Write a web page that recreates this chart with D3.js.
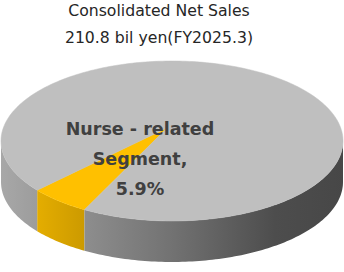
<!doctype html>
<meta charset="utf-8">
<style>
    body { margin: 0; background: #fff; }
    svg { display: block; }
</style>
<div id="chart"></div>
<script src="https://d3js.org/d3.v7.min.js"></script>
<script>

let titleLines = ["Consolidated Net Sales", "210.8 bil yen(FY2025.3)"]
let segments = ["Nurse - related Segment", "Other"]
let shares = [5.9, 94.1]
let labelLines = ["Nurse - related", "Segment,", "5.9%"]

let width = 344, height = 272
let cx = 172, cy = 141, rx = 171, ry = 80, depth = 41
// pie apex sits a bit above the ellipse centre (perspective)
let apex = {x: 167, y: 128}

let svg = d3.select("#chart").append("svg")
    .attr("width", width)
    .attr("height", height)

let defs = svg.append("defs")
let grey = defs.append("linearGradient").attr("id", "sideGrey")
    .attr("gradientUnits", "userSpaceOnUse")
    .attr("x1", 0).attr("x2", width).attr("y1", 0).attr("y2", 0)
grey.append("stop").attr("offset", 0).attr("stop-color", "#a8a8a8")
grey.append("stop").attr("offset", 0.5).attr("stop-color", "#727272")
grey.append("stop").attr("offset", 0.8).attr("stop-color", "#4d4d4d")
grey.append("stop").attr("offset", 1).attr("stop-color", "#474747")

let yellow = defs.append("linearGradient").attr("id", "sideYellow")
    .attr("gradientUnits", "userSpaceOnUse")
    .attr("x1", 30).attr("x2", 90).attr("y1", 0).attr("y2", 0)
yellow.append("stop").attr("offset", 0).attr("stop-color", "#e8b000")
yellow.append("stop").attr("offset", 1).attr("stop-color", "#c99800")

let topColors = d3.scaleOrdinal().domain(segments).range(["#ffc000", "#bfbfbf"])
let sideColors = d3.scaleOrdinal().domain(segments).range(["url(#sideYellow)", "url(#sideGrey)"])

let startDeg = 210.8
let pie = d3.pie().sort(null).value(d => d.v)
    .startAngle(startDeg * Math.PI / 180)
    .endAngle((startDeg + 360) * Math.PI / 180)
let arcs = pie(segments.map((s, i) => ({name: s, v: shares[i]})))

let px = a => cx + rx * Math.sin(a)
let py = a => cy - ry * Math.cos(a)

function rimPath(a0, a1, dy) {
    let n = Math.max(2, Math.ceil(Math.abs(a1 - a0) / 0.02))
    return d3.range(n + 1).map(i => {
        let a = a0 + (a1 - a0) * i / n
        return [px(a), py(a) + dy]
    })
}

// front side walls: visible where angle (mod 2pi) lies in [pi/2, 3pi/2]
let line = d3.line()
let sideGroup = svg.append("g")
arcs.forEach(d => {
    let TWO = 2 * Math.PI
    for (let k = -1; k <= 1; k++) {
        let lo = Math.max(d.startAngle, Math.PI / 2 + k * TWO + TWO)
        let hi = Math.min(d.endAngle, 3 * Math.PI / 2 + k * TWO + TWO)
        if (hi <= lo) continue
        let pts = rimPath(lo, hi, 0).concat(rimPath(hi, lo, depth))
        sideGroup.append("path")
            .attr("d", line(pts) + "Z")
            .attr("fill", sideColors(d.data.name))
    }
})

// top faces
svg.append("g").selectAll("path")
    .data(arcs)
    .join("path")
    .attr("d", d => line([[apex.x, apex.y]].concat(rimPath(d.startAngle, d.endAngle, 0))) + "Z")
    .attr("fill", d => topColors(d.data.name))
    .attr("stroke", d => topColors(d.data.name))
    .attr("stroke-width", 0.5)

svg.append("g").selectAll("text")
    .data(titleLines)
    .join("text")
    .attr("x", 159)
    .attr("y", (d, i) => 16 + i * 27)
    .attr("text-anchor", "middle")
    .style("font-family", "DejaVu Sans")
    .style("font-size", "15.7px")
    .style("fill", "#262626")
    .text(d => d)

svg.append("g").selectAll("text")
    .data(labelLines)
    .join("text")
    .attr("x", 140)
    .attr("y", (d, i) => 135 + i * 30)
    .attr("text-anchor", "middle")
    .style("font-family", "DejaVu Sans")
    .style("font-weight", "bold")
    .style("font-size", "17.5px")
    .style("fill", "#404040")
    .text(d => d)

</script>
